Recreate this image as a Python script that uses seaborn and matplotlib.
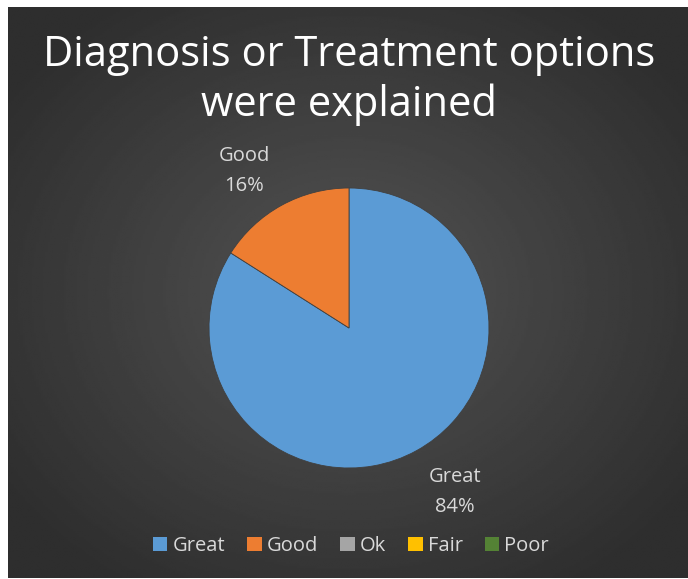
import numpy as np
import matplotlib
matplotlib.use("Agg")
import matplotlib.pyplot as plt
import seaborn as sns
from matplotlib.patches import Patch

sns.set_theme(style="white")
plt.rcParams['font.family'] = ['Open Sans', 'DejaVu Sans']

categories = ["Great", "Good", "Ok", "Fair", "Poor"]
values = [84, 16, 0, 0, 0]
colors = ["#5b9bd5", "#ed7d31", "#a5a5a5", "#ffc000", "#548235"]
title = "Diagnosis or Treatment options\nwere explained"

W, H = 688, 579
fig = plt.figure(figsize=(W / 100, H / 100), dpi=100)
fig.patch.set_facecolor("white")

# background panel with radial gradient
bg = fig.add_axes([8 / W, 1 / H, (W - 8) / W, (H - 8) / H])
yy, xx = np.mgrid[-1:1:300j, -1:1:300j]
r = np.sqrt(xx ** 2 + yy ** 2) / np.sqrt(2)
img = 0x53 - (0x53 - 0x2e) * np.clip(r * 1.15, 0, 1)
bg.imshow(img, cmap="gray", vmin=0, vmax=255, aspect="auto", extent=[0, 1, 0, 1])
bg.set_axis_off()

fig.text(349 / W, 1 - 80 / H, title, ha="center", va="center", color="white",
         fontsize=30, linespacing=1.25)

R = 140
ax = fig.add_axes([(349 - R) / W, 1 - (328 + R) / H, 2 * R / W, 2 * R / H])
data_cats = [c for c, v in zip(categories, values) if v > 0]
data_vals = [v for v in values if v > 0]
data_cols = [colors[categories.index(c)] for c in data_cats]
wedges, _ = ax.pie(data_vals, colors=data_cols, startangle=90, counterclock=False,
                   wedgeprops=dict(edgecolor="#404040", linewidth=0.6))
ax.set_xlim(-1.0, 1.0)
ax.set_ylim(-1.0, 1.0)
ax.set_aspect("equal")

label_color = "#d9d9d9"
fig.text(244 / W, 1 - 171 / H, f"{data_cats[1]}\n{data_vals[1]}%", ha="center", va="center",
         color=label_color, fontsize=14.5, linespacing=1.7)
fig.text(455 / W, 1 - 492 / H, f"{data_cats[0]}\n{data_vals[0]}%", ha="center", va="center",
         color=label_color, fontsize=14.5, linespacing=1.7)

handles = [Patch(facecolor=c, edgecolor="none", label=l) for c, l in zip(colors, categories)]
leg = fig.legend(handles=handles, loc="center", bbox_to_anchor=(351 / W, 1 - 546 / H),
                 ncol=5, frameon=False, fontsize=14.5, handlelength=0.7, handleheight=0.7,
                 handletextpad=0.25, columnspacing=1.12)
for t in leg.get_texts():
    t.set_color(label_color)

fig.savefig("out.png", dpi=100, facecolor=fig.get_facecolor())
